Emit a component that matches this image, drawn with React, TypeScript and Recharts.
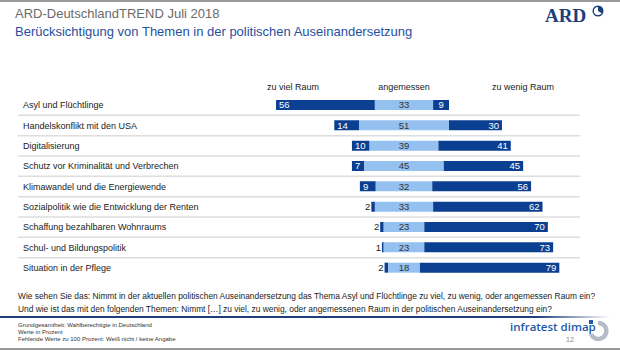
import { BarChart, Bar, XAxis, YAxis, LabelList } from 'recharts'

const topics = [
  'Asyl und Flüchtlinge',
  'Handelskonflikt mit den USA',
  'Digitalisierung',
  'Schutz vor Kriminalität und Verbrechen',
  'Klimawandel und die Energiewende',
  'Sozialpolitik wie die Entwicklung der Renten',
  'Schaffung bezahlbaren Wohnraums',
  'Schul- und Bildungspolitik',
  'Situation in der Pflege',
]
const zuViel = [56, 14, 10, 7, 9, 2, 2, 1, 2]
const angemessen = [33, 51, 39, 45, 32, 33, 23, 23, 18]
const zuWenig = [9, 30, 41, 45, 56, 62, 70, 73, 79]
const headers = ['zu viel Raum', 'angemessen', 'zu wenig Raum']

// diverging layout: an invisible offset bar centres "angemessen" on zero
const data = topics.map((topic, i) => ({
  topic,
  offset: -(angemessen[i] / 2 + zuViel[i]),
  viel: zuViel[i],
  ang: angemessen[i],
  wenig: zuWenig[i],
}))

const DARK = '#0b3f91'
const LIGHT = '#95c1f0'
const FONT = '"Liberation Sans", Arial, sans-serif'

const box = (props: any) => {
  const x = Math.min(props.x, props.x + props.width)
  const w = Math.abs(props.width)
  return { x, w, cy: props.y + props.height / 2 }
}

const VielLabel = (props: any) => {
  const { x, cy } = box(props)
  const v = zuViel[props.index]
  const inside = v >= 5
  return (
    <text
      x={inside ? x + 3 : x - 1}
      y={cy}
      dy={3.3}
      fontSize={9.5}
      fill={inside ? '#fff' : '#222'}
      textAnchor={inside ? 'start' : 'end'}
      fontFamily={FONT}
    >
      {v}
    </text>
  )
}

const AngLabel = (props: any) => {
  const { x, w, cy } = box(props)
  return (
    <text x={x + w / 2} y={cy} dy={3.3} fontSize={9.5} fill="#333" textAnchor="middle" fontFamily={FONT}>
      {angemessen[props.index]}
    </text>
  )
}

const WenigLabel = (props: any) => {
  const { x, w, cy } = box(props)
  const v = zuWenig[props.index]
  const small = v < 10
  return (
    <text
      x={small ? x + w / 2 : x + w - 3}
      y={cy}
      dy={3.3}
      fontSize={9.5}
      fill="#fff"
      textAnchor={small ? 'middle' : 'end'}
      fontFamily={FONT}
    >
      {v}
    </text>
  )
}

const band = (350 - 95 - 72) / topics.length

const TopicTick = (props: any) => {
  const { y, payload } = props
  const i = topics.indexOf(payload.value)
  return (
    <g>
      <text x={23} y={y} dy={3.3} fontSize={9} fill="#222" textAnchor="start" fontFamily={FONT}>
        {payload.value}
      </text>
      {i < topics.length - 1 && (
        <line x1={18} x2={580} y1={y + band / 2} y2={y + band / 2} stroke="#dedede" strokeWidth={1.5} />
      )}
    </g>
  )
}

function ArdLogo() {
  return (
    <svg width={72} height={24} style={{ position: 'absolute', left: 540, top: 3 }}>
      <text x={5} y={19} fontSize={19} fontWeight="bold" fill="#1b3f7c" fontFamily='"Liberation Serif", serif'>
        ARD
      </text>
      <circle cx={58} cy={8} r={4.8} fill="none" stroke="#1b3f7c" strokeWidth={1.4} />
      <path d="M58 8 L58 3.2 A4.8 4.8 0 0 1 62.2 10.4 Z" fill="#1b3f7c" />
    </svg>
  )
}

function DimapLogo() {
  return (
    <svg width={26} height={28} style={{ position: 'absolute', left: 586, top: 318 }}>
      <path d="M12 5 A8 8 0 1 1 5 16" fill="none" stroke="#b5bcc8" strokeWidth={4.5} />
      <rect x={3} y={2} width={4} height={4} fill="#1d5aa8" />
    </svg>
  )
}

export default function App() {
  return (
    <div style={{ position: 'relative', width: 620, height: 350, background: '#fff', fontFamily: FONT, overflow: 'hidden' }}>
      <style>{'body{margin:0}'}</style>
      <div style={{ position: 'absolute', left: 0, top: 0, width: 620, height: 2, background: '#9a9a9a' }} />
      <div style={{ position: 'absolute', left: 15, top: 6, fontSize: 13, color: '#6a6a6a' }}>
        ARD-DeutschlandTREND Juli 2018
      </div>
      <div style={{ position: 'absolute', left: 15, top: 24, fontSize: 13, color: '#1f4f9e' }}>
        Berücksichtigung von Themen in der politischen Auseinandersetzung
      </div>
      <ArdLogo />

      {headers.map((h, i) => (
        <div
          key={h}
          style={{
            position: 'absolute',
            left: [293, 404, 523][i] - 60,
            width: 120,
            top: 82,
            textAlign: 'center',
            fontSize: 9,
            color: '#222',
          }}
        >
          {h}
        </div>
      ))}

      <div style={{ position: 'absolute', left: 0, top: 0 }}>
        <BarChart
          width={620}
          height={350}
          data={data}
          layout="vertical"
          margin={{ top: 95, right: 39.5, bottom: 72, left: 0 }}
          barSize={10}
        >
          <XAxis type="number" domain={[-100, 100]} hide allowDataOverflow />
          <YAxis
            type="category"
            dataKey="topic"
            width={227.5}
            axisLine={false}
            tickLine={false}
            tick={<TopicTick />}
            interval={0}
          />
          <Bar dataKey="offset" stackId="s" fill="transparent" isAnimationActive={false} />
          <Bar dataKey="viel" stackId="s" fill={DARK} isAnimationActive={false}>
            <LabelList dataKey="viel" content={<VielLabel />} />
          </Bar>
          <Bar dataKey="ang" stackId="s" fill={LIGHT} isAnimationActive={false}>
            <LabelList dataKey="ang" content={<AngLabel />} />
          </Bar>
          <Bar dataKey="wenig" stackId="s" fill={DARK} isAnimationActive={false}>
            <LabelList dataKey="wenig" content={<WenigLabel />} />
          </Bar>
        </BarChart>
      </div>

      <div style={{ position: 'absolute', left: 18, top: 290, fontSize: 8.4, color: '#222', lineHeight: '13px' }}>
        Wie sehen Sie das: Nimmt in der aktuellen politischen Auseinandersetzung das Thema Asyl und Flüchtlinge zu viel, zu wenig, oder angemessen Raum ein?
        <br />
        Und wie ist das mit den folgenden Themen: Nimmt […] zu viel, zu wenig, oder angemessenen Raum in der politischen Auseinandersetzung ein?
      </div>
      <div
        style={{
          position: 'absolute',
          left: 0,
          top: 316,
          width: 610,
          height: 2,
          background: 'linear-gradient(to right, #1f3f7a 0%, #1f3f7a 88%, rgba(31,63,122,0) 100%)',
        }}
      />
      <div style={{ position: 'absolute', left: 18, top: 322, fontSize: 6, color: '#333', lineHeight: '7px' }}>
        Grundgesamtheit: Wahlberechtigte in Deutschland
        <br />
        Werte in Prozent
        <br />
        Fehlende Werte zu 100 Prozent: Weiß nicht / keine Angabe
      </div>
      <div style={{ position: 'absolute', left: 510, top: 319, fontSize: 11.5, color: '#1d5aa8', fontFamily: '"Open Sans", sans-serif', fontWeight: 600 }}>
        infratest dimap
      </div>
      <div style={{ position: 'absolute', left: 566, top: 336, fontSize: 7, color: '#888' }}>12</div>
      <DimapLogo />
      <div style={{ position: 'absolute', left: 0, top: 348, width: 620, height: 2, background: '#9a9a9a' }} />
    </div>
  )
}
